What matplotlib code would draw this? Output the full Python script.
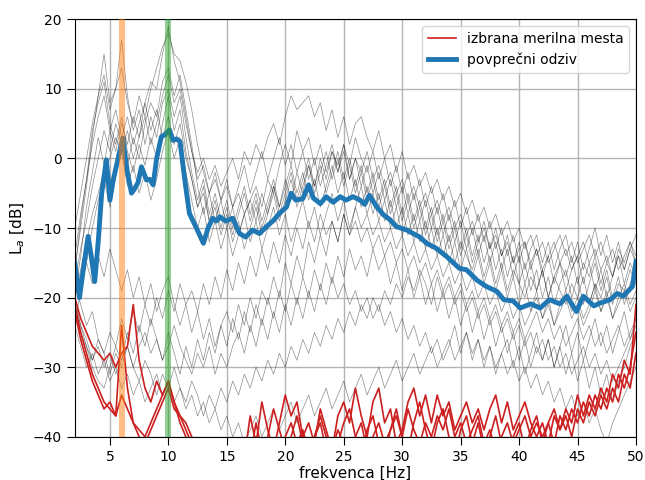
import numpy as np
import matplotlib
matplotlib.use("Agg")
import matplotlib.pyplot as plt

# frequency grid for the single measurement spectra (0.5 Hz step)
freq = np.arange(2.0, 50.01, 0.5)

# thin black lines: individual measurement points
black_lines = [
    [-14, -8, -3, 2, 6, 9, 4, 7, 3, 6,
     2, 5, 8, 11, 10, 15, 19, 14, 11, 6,
     1, -3, -1, -5, -3, -6, -4, -7, -5, -8,
     -6, -4, -7, -3, -5, -1, 2, -1, 4, 1,
     3, -1, 2, -2, 1, -1, 2, -3, 0, -2,
     1, -3, -1, -4, -2, -5, -3, -6, -4, -7,
     -5, -8, -6, -9, -7, -10, -8, -11, -9, -12,
     -10, -13, -11, -14, -12, -15, -13, -12, -15, -13,
     -16, -14, -12, -15, -13, -16, -14, -12, -15, -13,
     -16, -14, -17, -13, -15, -12, -14],
    [-16, -10, -4, 3, 9, 15, 8, 10, 17, 9,
     4, 7, 2, 6, 3, 8, 10, 6, 9, 3,
     -2, -6, -3, -8, -5, -9, -6, -10, -7, -4,
     -8, -5, -9, -6, -3, -7, -4, -1, -5, -2,
     -6, -3, -7, -4, -1, -5, -2, -6, -3, -7,
     -4, -8, -5, -9, -6, -10, -7, -11, -8, -12,
     -9, -13, -10, -14, -11, -15, -12, -14, -16, -13,
     -17, -14, -18, -15, -19, -16, -18, -20, -17, -19,
     -16, -20, -17, -19, -21, -18, -20, -17, -21, -18,
     -20, -17, -21, -18, -19, -16, -18],
    [-20, -16, -12, -8, -5, -2, 0, 3, 1, 4,
     0, 3, 6, 2, 5, 9, 12, 8, 10, 5,
     1, -2, 0, -3, -1, -4, -2, 0, -3, 1,
     -1, 2, 0, 3, 5, 2, 6, 9, 7, 8,
     9, 6, 8, 4, 7, 3, 6, 2, 5, 6,
     3, 1, 4, 0, 2, -2, 1, -3, -1, -4,
     -2, -5, -3, -6, -4, -7, -5, -8, -6, -9,
     -7, -10, -8, -11, -9, -12, -10, -13, -11, -14,
     -12, -15, -13, -11, -14, -12, -15, -13, -11, -14,
     -12, -15, -13, -16, -14, -12, -15],
    [-18, -13, -9, -4, 0, 4, 1, 5, 2, -1,
     3, 0, 5, 8, 6, 11, 13, 9, 12, 7,
     2, -4, -8, -5, -9, -6, -10, -7, -11, -8,
     -6, -9, -5, -8, -4, -7, -3, -6, -2, -5,
     -1, -4, 0, -3, 1, -2, 2, -1, 3, 0,
     -2, 1, -3, 0, -4, -1, -5, -2, -6, -3,
     -7, -4, -8, -5, -9, -6, -10, -7, -11, -8,
     -12, -9, -13, -10, -14, -11, -15, -12, -16, -13,
     -17, -14, -18, -15, -17, -14, -18, -15, -17, -14,
     -18, -15, -17, -14, -16, -13, -15],
    [-24, -19, -15, -10, -6, -3, -7, -2, 1, -4,
     -1, -5, -2, -6, -3, 1, 4, 0, 3, -2,
     -6, -10, -7, -12, -9, -13, -10, -14, -11, -8,
     -12, -9, -13, -10, -7, -11, -8, -12, -9, -6,
     -10, -7, -11, -8, -5, -9, -6, -10, -7, -4,
     -8, -5, -9, -6, -10, -7, -11, -8, -12, -9,
     -13, -10, -14, -11, -15, -12, -16, -13, -17, -14,
     -18, -15, -19, -16, -20, -17, -21, -18, -22, -19,
     -23, -20, -24, -21, -19, -22, -20, -23, -21, -18,
     -22, -19, -23, -20, -18, -21, -19],
    [-18, -21, -24, -22, -26, -28, -25, -27, -23, -26,
     -22, -25, -21, -24, -20, -23, -19, -22, -18, -21,
     -19, -22, -18, -21, -17, -20, -16, -19, -15, -18,
     -14, -17, -13, -16, -12, -15, -11, -14, -10, -13,
     -9, -12, -8, -11, -9, -12, -8, -11, -9, -12,
     -10, -13, -11, -14, -12, -15, -13, -16, -14, -17,
     -15, -18, -16, -19, -17, -20, -18, -21, -19, -22,
     -20, -23, -21, -24, -22, -25, -23, -26, -24, -22,
     -25, -23, -26, -24, -27, -25, -23, -26, -24, -27,
     -25, -28, -26, -24, -27, -25, -23],
    [-20, -24, -27, -30, -32, -33, -30, -27, -29, -25,
     -28, -24, -27, -23, -26, -29, -25, -28, -31, -27,
     -30, -26, -29, -25, -28, -24, -27, -23, -26, -22,
     -25, -21, -24, -20, -23, -19, -22, -18, -21, -17,
     -20, -16, -19, -15, -18, -14, -17, -13, -16, -14,
     -17, -13, -16, -14, -18, -15, -19, -16, -20, -17,
     -21, -18, -22, -19, -23, -20, -24, -21, -25, -22,
     -26, -23, -27, -24, -28, -25, -29, -26, -30, -27,
     -29, -26, -30, -27, -31, -28, -32, -29, -33, -30,
     -34, -31, -35, -32, -30, -27, -25],
    [-22, -25, -27, -29, -26, -28, -31, -28, -30, -27,
     -30, -32, -29, -31, -34, -31, -33, -30, -33, -35,
     -32, -34, -37, -34, -36, -33, -35, -32, -34, -31,
     -33, -30, -32, -29, -31, -28, -30, -27, -29, -26,
     -28, -25, -27, -24, -26, -23, -25, -22, -24, -21,
     -23, -20, -22, -19, -21, -18, -20, -17, -19, -16,
     -18, -21, -17, -20, -18, -21, -19, -22, -20, -23,
     -21, -24, -22, -25, -23, -26, -24, -27, -25, -28,
     -26, -29, -27, -30, -28, -31, -29, -27, -30, -28,
     -31, -29, -32, -30, -28, -26, -24],
    [-24, -27, -30, -28, -31, -29, -32, -30, -33, -31,
     -34, -32, -35, -33, -31, -34, -32, -35, -33, -36,
     -34, -37, -35, -38, -36, -39, -37, -40, -38, -41,
     -39, -37, -40, -38, -36, -39, -37, -35, -38, -36,
     -34, -37, -35, -33, -36, -34, -32, -35, -33, -31,
     -34, -32, -30, -33, -31, -29, -32, -30, -28, -31,
     -29, -27, -30, -28, -26, -29, -27, -25, -28, -26,
     -29, -27, -30, -28, -31, -29, -32, -30, -33, -31,
     -34, -32, -35, -33, -36, -34, -37, -35, -38, -36,
     -39, -41, -38, -36, -34, -32, -30],
    [-10, -5, 0, 5, 9, 12, 7, 10, 13, 8,
     5, 9, 6, 10, 13, 16, 18, 15, 14, 11,
     7, 2, -2, -5, -2, -6, -3, -7, -4, -1,
     -5, -2, 1, -3, 0, 3, -1, 2, -2, 1,
     -3, 0, -4, -1, 2, -2, 1, -3, 0, -4,
     -1, -5, -2, -6, -3, -7, -4, -8, -5, -9,
     -6, -10, -7, -11, -8, -12, -9, -13, -10, -14,
     -11, -15, -12, -16, -13, -17, -14, -18, -15, -19,
     -16, -20, -17, -15, -19, -16, -14, -18, -15, -19,
     -16, -20, -17, -14, -18, -15, -17],
    [-20, -14, -7, -2, 3, -1, 4, 1, 5, 2,
     6, 3, 8, 4, 7, 3, 6, 2, 5, 0,
     -3, -7, -4, -9, -6, -10, -7, -11, -8, -5,
     -9, -6, -10, -7, -4, -8, -5, -2, -6, -3,
     0, -4, -1, -5, -2, 1, -3, 0, -4, -1,
     -5, -2, -6, -3, -7, -4, -8, -5, -9, -6,
     -10, -7, -11, -8, -12, -9, -13, -10, -14, -11,
     -15, -12, -16, -13, -17, -14, -18, -15, -19, -16,
     -20, -17, -21, -18, -16, -20, -17, -21, -18, -15,
     -19, -16, -20, -17, -21, -18, -16],
    [-20, -17, -15, -18, -14, -17, -13, -16, -19, -16,
     -20, -17, -21, -18, -22, -19, -17, -21, -24, -21,
     -25, -22, -26, -23, -27, -24, -22, -25, -21, -24,
     -20, -23, -19, -21, -17, -20, -15, -18, -14, -17,
     -12, -15, -11, -14, -9, -12, -8, -11, -7, -10,
     -8, -11, -9, -12, -10, -13, -11, -14, -12, -15,
     -13, -16, -14, -17, -15, -18, -16, -19, -17, -20,
     -18, -21, -19, -22, -20, -23, -21, -24, -22, -20,
     -23, -21, -24, -22, -20, -23, -21, -24, -22, -19,
     -22, -20, -23, -21, -19, -22, -20],
    [-16, -9, -3, 4, 8, 11, 5, 2, 6, 1,
     -2, 2, -1, 3, 0, 5, 9, 4, 7, 1,
     -3, -7, -5, -9, -7, -11, -8, -12, -9, -13,
     -10, -7, -11, -8, -5, -9, -6, -3, -7, -4,
     -1, -5, -2, 1, -3, 0, -4, -1, -5, -2,
     -6, -3, -7, -4, -8, -5, -9, -6, -10, -7,
     -11, -8, -12, -9, -13, -10, -14, -11, -15, -12,
     -9, -13, -10, -14, -11, -15, -12, -16, -13, -11,
     -15, -12, -16, -13, -11, -15, -12, -16, -13, -10,
     -14, -11, -15, -12, -16, -13, -11],
    [-21, -24, -26, -29, -27, -30, -28, -31, -29, -27,
     -30, -27, -25, -28, -26, -29, -27, -24, -27, -29,
     -31, -28, -30, -27, -31, -28, -30, -27, -25, -28,
     -24, -27, -23, -26, -22, -25, -21, -24, -20, -23,
     -19, -22, -18, -21, -17, -20, -18, -21, -19, -22,
     -20, -23, -21, -24, -22, -25, -23, -26, -24, -27,
     -25, -28, -26, -29, -27, -24, -28, -25, -29, -26,
     -30, -27, -31, -28, -26, -30, -27, -31, -28, -25,
     -29, -26, -30, -27, -24, -28, -25, -29, -26, -23,
     -27, -24, -28, -25, -22, -26, -23],
]

# red lines: selected measurement points
red_lines = [
    [-20, -23, -25, -27, -28, -29, -28, -30, -28, -27,
     -21, -29, -33, -35, -32, -34, -32, -35, -37, -38,
     -40, -42, -43, -44, -42, -43, -44, -42, -41, -43,
     -37, -41, -35, -39, -42, -38, -34, -37, -35, -40,
     -38, -41, -36, -39, -42, -37, -35, -38, -33, -37,
     -40, -35, -33, -38, -36, -41, -39, -35, -33, -37,
     -34, -38, -34, -37, -35, -39, -37, -35, -38, -36,
     -39, -36, -34, -38, -35, -39, -37, -35, -38, -40,
     -38, -41, -37, -39, -36, -38, -34, -37, -34, -36,
     -33, -35, -31, -33, -29, -31, -21],
    [-21, -25, -28, -31, -33, -35, -36, -37, -34, -36,
     -38, -39, -40, -38, -36, -34, -32, -35, -38, -40,
     -42, -44, -43, -45, -43, -44, -42, -44, -43, -45,
     -43, -38, -42, -40, -36, -39, -42, -40, -37, -41,
     -43, -40, -38, -42, -44, -41, -38, -36, -40, -43,
     -39, -37, -41, -43, -39, -36, -40, -42, -38, -35,
     -39, -42, -38, -36, -40, -43, -39, -37, -41, -38,
     -42, -40, -37, -41, -43, -40, -38, -42, -39, -37,
     -41, -38, -36, -39, -37, -40, -36, -38, -35, -37,
     -34, -36, -33, -35, -31, -33, -28],
    [-22, -26, -29, -32, -34, -36, -35, -37, -24, -33,
     -38, -40, -41, -39, -37, -35, -33, -36, -37, -39,
     -41, -43, -42, -44, -45, -43, -42, -44, -41, -43,
     -42, -40, -43, -41, -44, -42, -40, -38, -41, -39,
     -42, -40, -37, -40, -42, -39, -41, -43, -40, -38,
     -42, -40, -38, -41, -39, -37, -40, -36, -39, -41,
     -38, -40, -37, -39, -36, -40, -38, -41, -39, -37,
     -41, -39, -42, -40, -38, -41, -39, -37, -40, -38,
     -40, -38, -41, -37, -39, -36, -38, -35, -37, -34,
     -36, -33, -35, -31, -33, -30, -25],
]

# thick blue line: average response
mean_f = [2.0, 2.4, 2.8, 3.14, 3.4, 3.7, 4.0, 4.3, 4.7, 5.0, 5.3, 5.7, 6.1, 6.5,
          6.85, 7.1, 7.4, 7.7, 8.13, 8.4, 8.7, 9.0, 9.4, 9.7, 10.1, 10.4, 10.7,
          11.0, 11.4, 11.8, 12.4, 13.0, 13.4, 13.8, 14.1, 14.4, 14.9, 15.5, 16.1,
          16.6, 17.2, 17.8, 18.4, 19.0, 19.5, 20.1, 20.5, 20.9, 21.5, 22.0, 22.4,
          23.0, 23.5, 24.1, 24.7, 25.2, 25.8, 26.4, 26.8, 27.2, 27.8, 28.4, 28.95,
          29.5, 30.4, 30.95, 31.5, 32.1, 32.9, 33.8, 34.9, 35.5, 36.4, 37.2, 38.1,
          38.7, 39.5, 40.1, 41.0, 41.8, 42.6, 43.5, 44.1, 44.9, 45.5, 46.4, 46.9,
          47.8, 48.4, 48.9, 49.7, 50.0]
mean_L = [-15, -20, -15, -11.2, -14, -17.7, -12, -5, -0.2, -6, -3, 0, 2.9, -2,
          -5, -4.4, -3.5, -1.2, -3.1, -3, -3.8, 0, 3.1, 3.4, 4.1, 2.6, 2.8,
          2.4, -3, -7.9, -10, -12.2, -10, -8.6, -9, -8.4, -9, -8.6, -10.8,
          -11.3, -10.3, -10.8, -9.8, -8.9, -7.9, -7, -5, -6, -5.8, -3.8, -5.7,
          -6.5, -5.5, -6.3, -5.5, -6, -5.5, -6, -6.6, -5.3, -6.9, -8.1, -8.8,
          -9.8, -10.3, -10.8, -11.3, -12.2, -12.9, -14.1, -15.8, -16, -17.5, -18.4, -19.1,
          -20.3, -20.5, -21.5, -20.9, -21.5, -20.3, -20.9, -19.8, -22, -19.8, -21.2, -20.8,
          -20.3, -19.4, -19.8, -18.4, -14.8]

fig = plt.figure(figsize=(6.45, 4.8), dpi=100)
ax = fig.add_axes([0.116, 0.09, 0.87, 0.87])

for line in black_lines:
    ax.plot(freq, line, color="k", lw=0.5, alpha=0.45)
for i, line in enumerate(red_lines):
    ax.plot(freq, line, color="#cc1f1f", lw=1.2,
            label="izbrana merilna mesta" if i == 0 else None)
ax.plot(mean_f, mean_L, color="C0", lw=3.5, label="povprečni odziv")

ax.axvspan(5.75, 6.25, color="C1", alpha=0.5, lw=0, zorder=3)
ax.axvspan(9.75, 10.25, color="C2", alpha=0.5, lw=0, zorder=3)

ax.set_xlim(2, 50)
ax.set_ylim(-40, 20)
ax.set_xticks(np.arange(5, 51, 5))
ax.set_yticks(np.arange(-40, 21, 10))
ax.tick_params(direction="out", length=6)
ax.grid(True, color="0.7", lw=1.0)
ax.set_xlabel("frekvenca [Hz]", fontsize=11, labelpad=1)
ax.set_ylabel("L$_a$ [dB]", fontsize=11)
ax.legend(loc="upper right", fontsize=10)

fig.savefig("out.png", dpi=100)
